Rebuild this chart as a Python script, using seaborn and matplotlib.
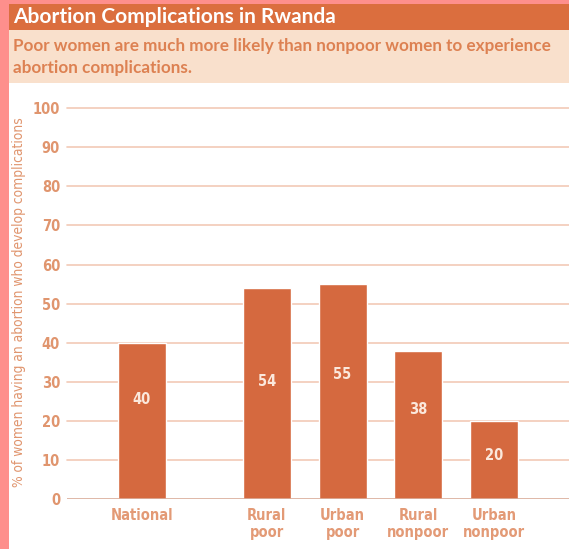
import matplotlib
matplotlib.use("Agg")
import matplotlib.pyplot as plt
from matplotlib.patches import Rectangle
import seaborn as sns

categories = ["National", "Rural\npoor", "Urban\npoor", "Rural\nnonpoor", "Urban\nnonpoor"]
values = [40, 54, 55, 38, 20]
y_ticks = [0, 10, 20, 30, 40, 50, 60, 70, 80, 90, 100]

# layout: bar centres (National stands apart) and where the numbers sit in the bars
x_pos = [0, 1.65, 2.65, 3.65, 4.65]
label_y = [25.5, 30, 32, 23, 11.3]

title = "Abortion Complications in Rwanda"
subtitle = "Poor women are much more likely than nonpoor women to experience\nabortion complications."
ylabel = "% of women having an abortion who develop complications"

bar_color = "#d5693f"
band_color = "#db6e3e"
sub_band = "#f9e0cc"
pink = "#fe8f8c"
text_color = "#e0956e"
grid_color = "#f2c9b6"

sns.set_theme(style="white")
plt.rcParams["font.family"] = ["DejaVu Sans"]
plt.rcParams["font.stretch"] = "condensed"

fig = plt.figure(figsize=(5.69, 5.49), dpi=100)
fig.patch.set_facecolor("white")

# frame bands
for rect in [(0, 0, 9 / 569, 1, pink),
             (0, 1 - 4 / 549, 1, 4 / 549, pink),
             (9 / 569, 1 - 30 / 549, 1, 26 / 549, band_color),
             (9 / 569, 1 - 83 / 549, 1, 53 / 549, sub_band)]:
    fig.add_artist(Rectangle(rect[:2], rect[2], rect[3], transform=fig.transFigure,
                             color=rect[4], lw=0, zorder=-10))

fig.text(13 / 569, 1 - 17 / 549, title, color="white", fontsize=15, fontweight="bold",
         family=["Lato", "DejaVu Sans"], stretch="normal", va="center", ha="left")
fig.text(13 / 569, 1 - 57 / 549, subtitle, color="#dd8152", fontsize=12.3, fontweight="bold",
         family=["Lato", "DejaVu Sans"], stretch="normal", va="center", ha="left", linespacing=1.45)
fig.text(19 / 569, 1 - 302 / 549, ylabel, color=text_color, fontsize=9.9, rotation=90,
         va="center", ha="center")

ax = fig.add_axes([67 / 569, 1 - 499.3 / 549, 1 - 67 / 569, 391.3 / 549])
ax.set_facecolor("white")

for t in y_ticks[1:]:
    ax.axhline(t, color=grid_color, lw=1.2, zorder=0, clip_on=False)
ax.axhline(0, color="#d9ab98", lw=1.2, zorder=3)

sns.barplot(x=x_pos, y=values, color=bar_color, saturation=1, native_scale=True,
            width=0.635, ax=ax, zorder=2)

for xp, v, ly in zip(x_pos, values, label_y):
    ax.text(xp, ly, str(v), color="#fbe8dc", fontsize=10.5, fontweight="bold",
            ha="center", va="center", zorder=4)

ax.set_xlim(-0.99, 5.64)
ax.set_ylim(0, 100)
ax.set_yticks(y_ticks)
ax.set_yticklabels([str(t) for t in y_ticks], color=text_color, fontsize=10.5, fontweight="bold")
ax.set_xticks(x_pos)
ax.set_xticklabels(categories, color="#e39a76", fontsize=10.5, fontweight="bold", linespacing=1.2)
ax.tick_params(axis="x", length=0, pad=6)
ax.tick_params(axis="y", length=0, pad=5)
for s in ax.spines.values():
    s.set_visible(False)

fig.savefig("out.png", dpi=100)
